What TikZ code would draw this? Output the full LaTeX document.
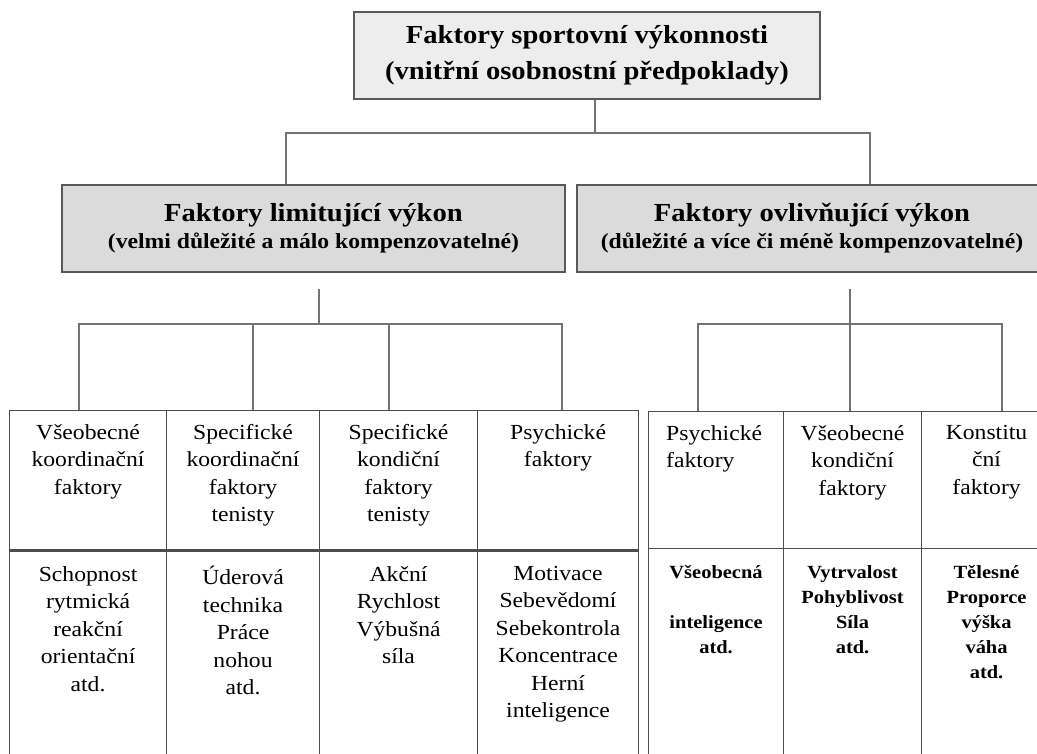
\documentclass[tikz,border=0pt]{standalone}
\usepackage{fontspec}
\setmainfont{Liberation Serif}
\newfontfamily\widefont[FakeStretch=1.1]{Liberation Serif}
\usetikzlibrary{positioning}

\begin{document}
\begin{tikzpicture}[x=1pt, y=-1pt,
    box/.style={draw=black!65, line width=1.5pt, align=center, inner sep=0pt,
        minimum height=87pt},
    head/.style={box, fill=black!14, font=\widefont\bfseries},
    cell/.style={draw=black!70, line width=1.1pt, anchor=north west, inner sep=0pt},
    conn/.style={draw=black!55, line width=1.4pt},
    txt/.style={align=center, inner sep=0pt,
        font=\widefont\fontsize{21.5}{27.5}\selectfont},
    btxt/.style={align=center, inner sep=0pt,
        font=\widefont\bfseries\fontsize{18.6}{25}\selectfont}]
    \useasboundingbox (0,0) rectangle (1037,753);

    \node[box, fill=black!7, minimum width=466pt,
        font=\widefont\bfseries\fontsize{26}{36}\selectfont] (top) at (587,55.5)
        {Faktory sportovní výkonnosti\\(vnitřní osobnostní předpoklady)};

    \node[head, minimum width=503pt] (lim) at (313.5,228.5)
        {\fontsize{26}{29}\selectfont Faktory limitující výkon\\[5pt]
         \fontsize{21.5}{29}\selectfont (velmi důležité a málo kompenzovatelné)};
    \node[head, minimum width=470pt] (ovl) at (812,228.5)
        {\fontsize{26}{29}\selectfont Faktory ovlivňující výkon\\[5pt]
         \fontsize{21.5}{29}\selectfont (důležité a více či méně kompenzovatelné)};

    \foreach \n/\x/\w in {1/9/157, 2/166/153, 3/319/158, 4/477/161} {
        \node[cell, minimum width=\w pt, minimum height=139pt] (h\n) at (\x,410) {};
        \node[cell, minimum width=\w pt, minimum height=230pt] (b\n) at (\x,549) {};
    }
    \foreach \n/\x/\w in {1/648/135, 2/783/138, 3/921/130} {
        \node[cell, minimum width=\w pt, minimum height=137pt] (r\n) at (\x,411) {};
        \node[cell, minimum width=\w pt, minimum height=230pt] (s\n) at (\x,548) {};
    }
    \draw[black!70, line width=3pt] (h1.south west) -- (h4.south east);

    \coordinate (bus) at (595,133);
    \draw[conn] (top.south -| bus) -- (bus);
    \draw[conn] (lim.north -| 286,0) |- (bus) -| (ovl.north -| 870,0);

    \coordinate (limout) at ([yshift=-16pt]lim.south);
    \coordinate (lbus) at (319,324);
    \draw[conn] (limout -| lbus) -- (lbus);
    \draw[conn] (h1.north -| 79,0) |- (lbus) -| (h4.north -| 562,0);
    \foreach \x/\c in {253/h2, 389/h3}
        \draw[conn] (\c.north -| \x,0) -- (lbus -| \x,0);

    \coordinate (ovlout) at ([yshift=-16pt]ovl.south);
    \coordinate (rbus) at (850,324);
    \draw[conn] (ovlout -| rbus) -- (rbus);
    \draw[conn] (r1.north -| 698,0) |- (rbus) -| (r3.north -| 1002,0);
    \draw[conn] (rbus) -- (r2.north -| rbus);

    \node[txt, below=14pt of h1.north] (th1) {Všeobecné\\koordinační\\faktory};
    \node[txt, below=14pt of h2.north] (th2) {Specifické\\koordinační\\faktory\\tenisty};
    \node[txt, below=14pt of h3.north] (th3) {Specifické\\kondiční\\faktory\\tenisty};
    \node[txt, below=14pt of h4.north] (th4) {Psychické\\faktory};

    \node[txt, below=17pt of b1.north] (tb1) {Schopnost\\rytmická\\reakční\\orientační\\atd.};
    \node[txt, below=17pt of b2.north] (tb2) {Úderová\\technika\\Práce\\nohou\\atd.};
    \node[txt, below=17pt of b3.north] (tb3) {Akční\\Rychlost\\Výbušná\\síla};
    \node[txt, below=17pt of b4.north] (tb4)
        {Motivace\\Sebevědomí\\Sebekontrola\\Koncentrace\\Herní\\inteligence};

    \node[txt, align=left, below right=14pt and 18pt of r1.north west] (tr1) {Psychické\\faktory};
    \node[txt, below=14pt of r2.north] (tr2) {Všeobecné\\kondiční\\faktory};
    \node[txt, below=14pt of r3.north] (tr3) {Konstitu\\ční\\faktory};

    \node[btxt, below=17pt of s1.north] (ts1) {Všeobecná\\[25pt]inteligence\\atd.};
    \node[btxt, below=17pt of s2.north] (ts2) {Vytrvalost\\Pohyblivost\\Síla\\atd.};
    \node[btxt, below=17pt of s3.north] (ts3) {Tělesné\\Proporce\\výška\\váha\\atd.};
\end{tikzpicture}
\end{document}
